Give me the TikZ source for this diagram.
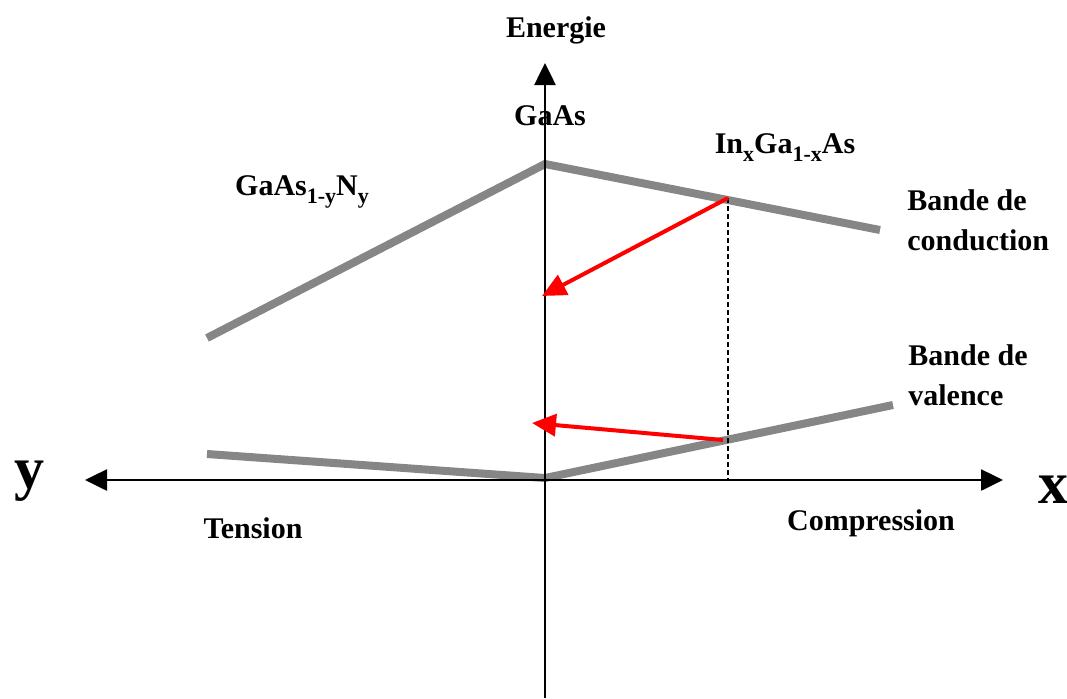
\documentclass[tikz,border=0pt]{standalone}
\usepackage{fontspec}
\setmainfont{Liberation Serif}
\usetikzlibrary{arrows.meta}
\newcommand\lowsub[1]{\raisebox{-4pt}{\fontsize{11}{11}\selectfont #1}}

\begin{document}
\begin{tikzpicture}[x=0.5pt, y=-0.5pt,
  lbl/.style={font=\bfseries\fontsize{15}{20}\selectfont, inner sep=0pt},
  big/.style={font=\bfseries\fontsize{30}{30}\selectfont, inner sep=0pt},
  axis/.style={-{Triangle[length=11pt,width=10.5pt]}, line width=1.3pt},
  band/.style={line width=4pt, draw=gray!95},
  redarr/.style={-{Triangle[length=12pt,width=11pt]}, line width=2pt, draw=red}]
\useasboundingbox (0,0) rectangle (1067,698);
\coordinate (o) at (545,480);
\coordinate (top) at (545,63);
\coordinate (bot) at (545,698);
\coordinate (xr) at (1003,480);
\coordinate (yl) at (85,480);
\coordinate (cl) at (207,338);
\coordinate (cg) at (545,164);
\coordinate (cr) at (880,230);
\coordinate (vl) at (207,454);
\coordinate (vg) at (545,478);
\coordinate (vr) at (893,405);
\coordinate (ci) at (728,198);
\coordinate (vi) at (723,440);
\coordinate (xi) at (728,480);
\coordinate (ct) at (542,296);
\coordinate (vt) at (532,423);
\draw[band] (cl) -- (cg) -- (cr);
\draw[band] (vl) -- (vg) -- (vr);
\draw[axis] (bot) -- (top);
\draw[axis] (o) -- (xr);
\draw[axis] (o) -- (yl);
\draw[line width=1.1pt, dash pattern=on 2.5pt off 1.5pt] (ci) -- (xi);
\draw[redarr] (ci) -- (ct);
\draw[redarr] (vi) -- (vt);
\node[lbl, anchor=base] (energie) at (556,37) {Energie};
\node[lbl, anchor=base] (gaas) at (550,125) {GaAs};
\node[lbl, anchor=base] (gaasn) at (302,195) {GaAs\lowsub{1-y}N\lowsub{y}};
\node[lbl, anchor=base] (ingaas) at (785,153) {In\lowsub{x}Ga\lowsub{1-x}As};
\node[lbl, anchor=base west, align=left] (bc) at (907,250) {Bande de\\conduction};
\node[lbl, anchor=base west, align=left] (bv) at (908,405) {Bande de\\valence};
\node[lbl, anchor=base] (tension) at (253,538) {Tension};
\node[lbl, anchor=base] (compression) at (871,530) {Compression};
\node[big, anchor=base] (ylab) at (29,488) {y};
\node[big, anchor=base] (xlab) at (1053,503) {x};
\end{tikzpicture}
\end{document}
